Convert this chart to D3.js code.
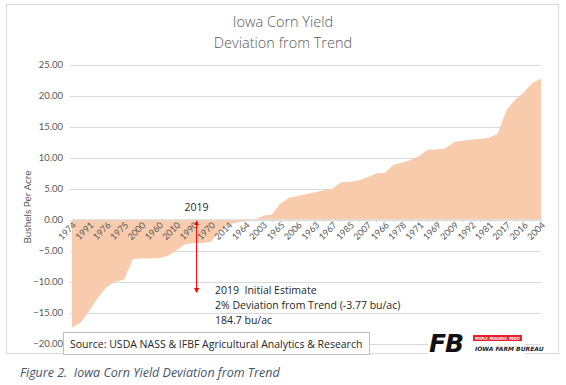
<!DOCTYPE html>
<html>
<head>
<meta charset="utf-8">
<script src="https://cdn.jsdelivr.net/npm/d3@7"></script>
<style>
  body { margin: 0; background: #fff; }
</style>
</head>
<body>
<div id="chart"></div>
<script>
"use strict";
(function() {

const WIDTH = 566
const HEIGHT = 385

const margin = { top: 64.5, bottom: 41.5, left: 72, right: 25 }

const FILL = "#f8cbad"
const GRID = "#d9d9d9"
const LABEL = "#595959"

// years sorted by deviation from trend (every other one labelled on the axis)
const years = [
    "1974", "1980", "1991", "1977", "1976", "1995", "1975", "2011", "2000", "1989",
    "1960", "2013", "2010", "1984", "1990", "1973", "1970", "1968", "2014", "1961",
    "1964", "1999", "2003", "1962", "1965", "1972", "2006", "1986", "1963", "1982",
    "1967", "1987", "1985", "1996", "2007", "2008", "1966", "1997", "1978", "1979",
    "1971", "2001", "1969", "2002", "2009", "2005", "1992", "2015", "1981", "1998",
    "2017", "2018", "2016", "1994", "2004"
]

// bushels per acre above / below trend
const deviation = [
    -17.4, -16.6, -14.7, -12.6, -10.9, -10.0, -9.7, -6.4, -6.3, -6.3,
    -6.2, -5.9, -5.0, -4.0, -3.8, -3.8, -3.6, -1.8, -0.8, -0.5,
    -0.3, -0.1, 0.6, 0.8, 2.6, 3.5, 3.8, 4.1, 4.4, 4.7,
    5.0, 6.0, 6.1, 6.3, 6.8, 7.4, 7.5, 8.8, 9.2, 9.6,
    10.3, 11.3, 11.3, 11.5, 12.5, 12.7, 12.9, 13.0, 13.2, 13.8,
    17.6, 19.3, 20.5, 22.0, 22.7
]

const yTicks = [-20, -15, -10, -5, 0, 5, 10, 15, 20, 25]

const titleLines = ["Iowa Corn Yield", "Deviation from Trend"]
const noteLines = ["2019  Initial Estimate", "2% Deviation from Trend (-3.77 bu/ac)", "184.7 bu/ac"]
const SOURCE = "Source: USDA NASS & IFBF Agricultural Analytics & Research"
const CAPTION = "Figure 2.  Iowa Corn Yield Deviation from Trend"
const MARK_YEAR = "1990"   // where the 2019 estimate (-3.77) falls

const SANS = "Lato, sans-serif"
const BODY = "'Open Sans', sans-serif"

const data = d3.zip(years, deviation)

let svg = d3.select("#chart").append("svg")
    .attr("width", WIDTH)
    .attr("height", HEIGHT)
    .attr("font-family", SANS)

// chart frame
svg.append("rect")
    .attr("x", 6.5).attr("y", 4.5)
    .attr("width", 552).attr("height", 349)
    .attr("fill", "#fff")
    .attr("stroke", "#d9d9d9")

let x_scale = d3.scalePoint().domain(years).range([margin.left, WIDTH - margin.right])
let y_scale = d3.scaleLinear().domain([-20, 25]).range([HEIGHT - margin.bottom, margin.top])

// title
svg.append("g").selectAll("text")
    .data(titleLines)
    .join("text")
    .attr("x", 283)
    .attr("y", (d, i) => 27 + i * 21)
    .attr("text-anchor", "middle")
    .attr("font-family", BODY)
    .attr("font-weight", 300)
    .attr("font-size", 14.5)
    .attr("fill", LABEL)
    .text(d => d)

// horizontal gridlines
svg.append("g").selectAll("line")
    .data(yTicks)
    .join("line")
    .attr("x1", margin.left - 2)
    .attr("x2", WIDTH - margin.right)
    .attr("y1", d => Math.round(y_scale(d)) + 0.5)
    .attr("y2", d => Math.round(y_scale(d)) + 0.5)
    .attr("stroke", GRID)

// y axis labels
let yAxis = svg.append("g")
    .attr("transform", `translate(${margin.left}, 0)`)
    .call(d3.axisLeft(y_scale).tickValues(yTicks).tickFormat(d3.format(".2f")).tickSize(0).tickPadding(9))
yAxis.select(".domain").remove()
yAxis.selectAll("text")
    .attr("font-family", SANS)
    .attr("font-size", 9.5)
    .attr("fill", LABEL)

svg.append("text")
    .attr("transform", `translate(31, 207) rotate(-90)`)
    .attr("text-anchor", "middle")
    .attr("font-size", 10)
    .attr("fill", LABEL)
    .text("Bushels Per Acre")

// area
let area = d3.area()
    .x(d => x_scale(d[0]))
    .y0(y_scale(0))
    .y1(d => y_scale(d[1]))

svg.append("path")
    .attr("d", area(data))
    .attr("fill", FILL)

// category axis at zero
let xAxis = svg.append("g")
    .attr("transform", `translate(0, ${y_scale(0)})`)
    .call(d3.axisBottom(x_scale)
        .tickSize(3)
        .tickFormat((d, i) => i % 2 === 0 ? d : ""))
xAxis.select(".domain").attr("stroke", GRID)
xAxis.selectAll(".tick line").attr("stroke", GRID)
xAxis.selectAll("text")
    .attr("x", 0).attr("y", 0).attr("dy", "0.35em")
    .attr("transform", "translate(2, 4) rotate(-45)")
    .attr("text-anchor", "end")
    .attr("font-family", SANS)
    .attr("font-size", 9)
    .attr("fill", LABEL)

// 2019 marker
let mx = x_scale(MARK_YEAR) + 3
svg.append("defs").append("marker")
    .attr("id", "head")
    .attr("viewBox", "0 0 10 10")
    .attr("refX", 8).attr("refY", 5)
    .attr("markerWidth", 5).attr("markerHeight", 5)
    .attr("orient", "auto-start-reverse")
    .append("path")
    .attr("d", "M0,0L10,5L0,10Z")
    .attr("fill", "#ff0000")

svg.append("line")
    .attr("x1", mx).attr("x2", mx)
    .attr("y1", y_scale(-0.3)).attr("y2", y_scale(-11.7))
    .attr("stroke", "#ff0000")
    .attr("stroke-width", 1)
    .attr("marker-start", "url(#head)")
    .attr("marker-end", "url(#head)")

svg.append("text")
    .attr("x", mx)
    .attr("y", 211)
    .attr("text-anchor", "middle")
    .attr("font-family", BODY)
    .attr("font-size", 10.5)
    .attr("fill", "#262626")
    .text("2019")

svg.append("g").selectAll("text")
    .data(noteLines)
    .join("text")
    .attr("x", 215)
    .attr("y", (d, i) => 294 + i * 15)
    .attr("font-family", BODY)
    .attr("font-size", 10.5)
    .attr("fill", "#262626")
    .style("white-space", "pre")
    .text(d => d)

// source box
svg.append("rect")
    .attr("x", 63.5).attr("y", 332.5)
    .attr("width", 306).attr("height", 22)
    .attr("fill", "#fff")
    .attr("stroke", "#bfbfbf")

svg.append("text")
    .attr("x", 70)
    .attr("y", 348)
    .attr("font-family", BODY)
    .attr("font-size", 10.5)
    .attr("fill", "#262626")
    .text(SOURCE)

// farm bureau logo
let logo = svg.append("g").attr("transform", "translate(428, 332)")
logo.append("rect").attr("x", 0).attr("y", 0).attr("width", 97).attr("height", 22).attr("fill", "#fff")
logo.append("text")
    .attr("x", 1).attr("y", 20)
    .attr("font-family", "'DejaVu Sans', sans-serif")
    .attr("font-weight", "bold")
    .attr("font-style", "italic")
    .attr("font-size", 25)
    .attr("letter-spacing", -1)
    .attr("fill", "#111")
    .text("FB")
logo.append("rect")
    .attr("x", 45).attr("y", 3)
    .attr("width", 49).attr("height", 6)
    .attr("fill", "#e4202e")
logo.append("text")
    .attr("x", 47).attr("y", 7.6)
    .attr("font-family", "'DejaVu Sans', sans-serif")
    .attr("font-weight", "bold")
    .attr("font-style", "italic")
    .attr("font-size", 4)
    .attr("textLength", 45)
    .attr("lengthAdjust", "spacingAndGlyphs")
    .attr("fill", "#fff")
    .text("PEOPLE. PROGRESS. PRIDE!")
logo.append("text")
    .attr("x", 47).attr("y", 19)
    .attr("font-family", "'DejaVu Sans', sans-serif")
    .attr("font-weight", "bold")
    .attr("font-style", "italic")
    .attr("font-size", 6)
    .attr("fill", "#222")
    .text("IOWA FARM BUREAU")

// caption
svg.append("text")
    .attr("x", 20)
    .attr("y", 377)
    .attr("font-family", BODY)
    .attr("font-style", "italic")
    .attr("font-size", 12.5)
    .attr("fill", "#44546a")
    .style("white-space", "pre")
    .text(CAPTION)

})();
</script>
</body>
</html>
